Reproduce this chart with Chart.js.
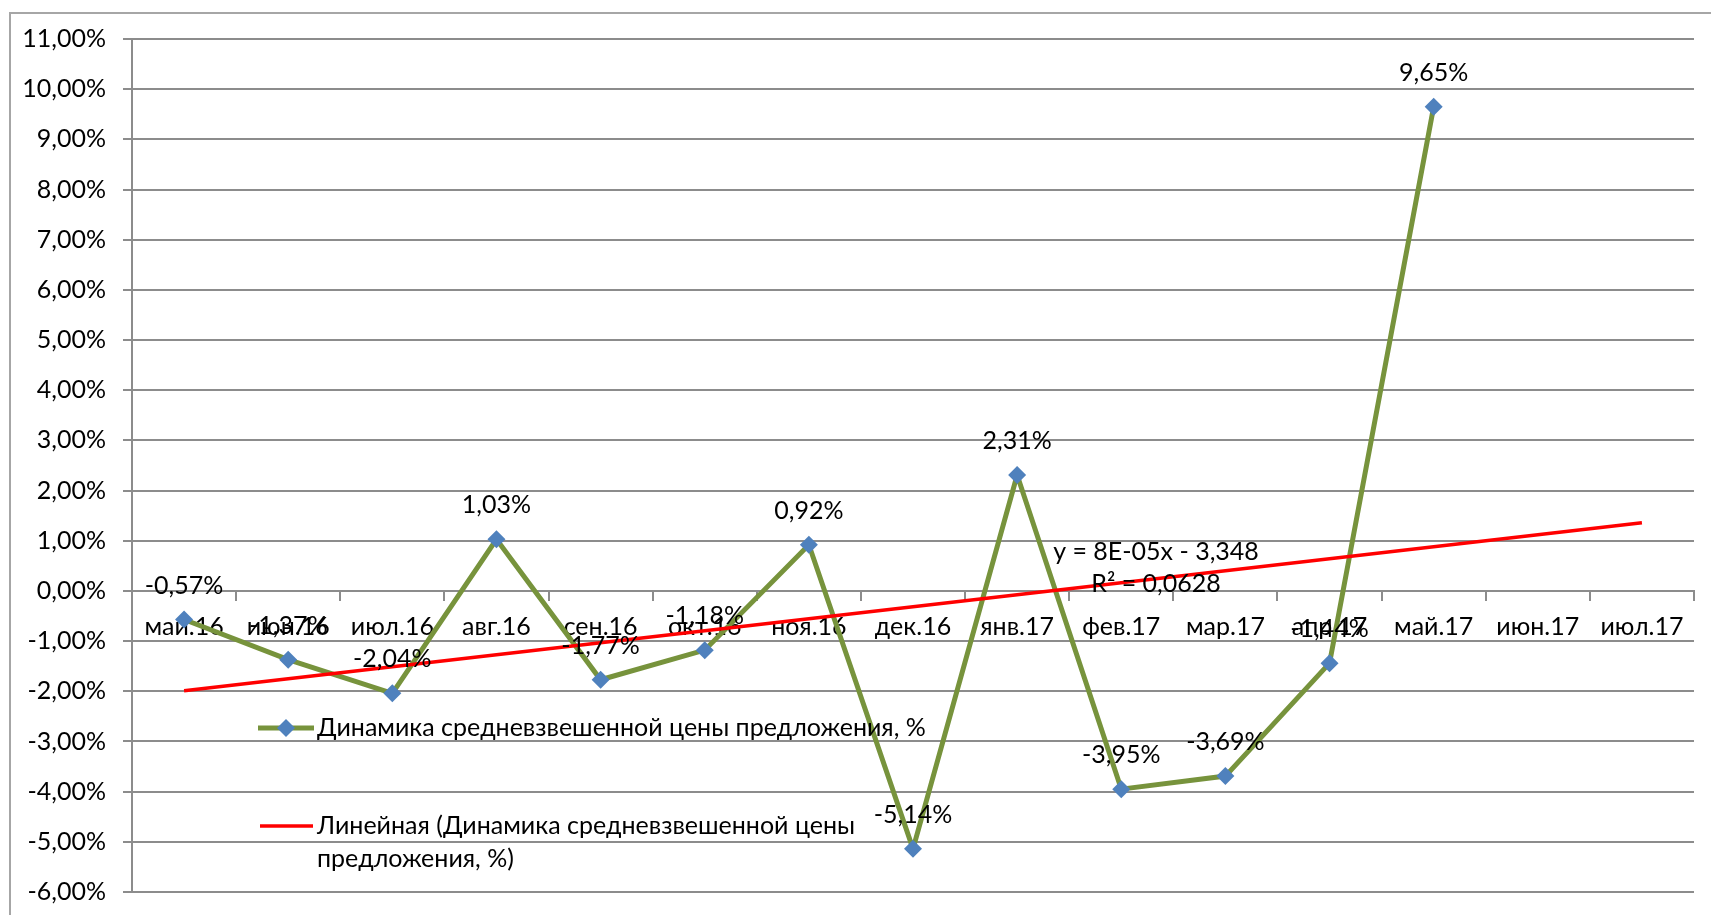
<!DOCTYPE html>
<html>
<head>
<meta charset="utf-8">
<script src="https://cdn.jsdelivr.net/npm/chart.js@4"></script>
<style>
    body { margin: 0; background: #fff; overflow: hidden; width: 1711px; height: 915px; position: relative; }
    .frame { position: absolute; left: 9px; top: 12px; width: 1720px; height: 920px; border: 2px solid #a6a6a6; }
    .my-chart { position: absolute; left: 0; top: 0; }
</style>
</head>
<body>
<div class="frame"></div>
<!-- canvas a bit taller than the window: the lower edge is cut off like in the source picture -->
<canvas class="my-chart" width="1711" height="924"></canvas>
<script>
const months = ['май.16', 'июн.16', 'июл.16', 'авг.16', 'сен.16', 'окт.16', 'ноя.16', 'дек.16',
    'янв.17', 'фев.17', 'мар.17', 'апр.17', 'май.17', 'июн.17', 'июл.17'];
const priceChange = [-0.57, -1.37, -2.04, 1.03, -1.77, -1.18, 0.92, -5.14, 2.31, -3.95, -3.69, -1.44, 9.65, null, null];
// trend line ends (first and last month)
const trendLine = [-1.99, null, null, null, null, null, null, null, null, null, null, null, null, null, 1.36];
const yTicks = { min: -6, max: 11, step: 1 };

const seriesName = 'Динамика средневзвешенной цены предложения, %';
const trendName = 'Линейная (Динамика средневзвешенной цены предложения, %)';
const equationText = ['y = 8E-05x - 3,348', 'R² = 0,0628'];

const fontName = 'Lato';
const fontSize = 25;
const gridGray = '#8c8c8c';

function percent(v) {
    return v.toFixed(2).replace('.', ',') + '%';
}

// value labels above the markers
const valueLabels = {
    id: 'valueLabels',
    afterDatasetsDraw(chart) {
        const ctx = chart.ctx;
        const meta = chart.getDatasetMeta(0);
        ctx.save();
        ctx.font = fontSize + 'px ' + fontName;
        ctx.fillStyle = '#000';
        ctx.textAlign = 'center';
        ctx.textBaseline = 'middle';
        meta.data.forEach(function (pt, i) {
            const v = chart.data.datasets[0].data[i];
            if (v === null) return;
            ctx.fillText(percent(v), pt.x, pt.y - 34);
        });
        ctx.restore();
    }
};

// legend drawn inside the plot + trend equation
const innerLegend = {
    id: 'innerLegend',
    afterDraw(chart) {
        const ctx = chart.ctx;
        const ds = chart.data.datasets;
        ctx.save();
        ctx.font = fontSize + 'px ' + fontName;
        ctx.fillStyle = '#000';
        ctx.textBaseline = 'middle';

        // first item
        ctx.strokeStyle = ds[0].borderColor;
        ctx.lineWidth = 5;
        ctx.beginPath();
        ctx.moveTo(258, 728);
        ctx.lineTo(314, 728);
        ctx.stroke();
        ctx.fillStyle = ds[0].pointBackgroundColor;
        ctx.beginPath();
        ctx.moveTo(286, 719);
        ctx.lineTo(295, 728);
        ctx.lineTo(286, 737);
        ctx.lineTo(277, 728);
        ctx.closePath();
        ctx.fill();
        ctx.fillStyle = '#000';
        ctx.textAlign = 'left';
        ctx.fillText(ds[0].label, 317, 728);

        // second item, wrapped
        ctx.strokeStyle = ds[1].borderColor;
        ctx.lineWidth = 3.5;
        ctx.beginPath();
        ctx.moveTo(260, 826);
        ctx.lineTo(313, 826);
        ctx.stroke();
        const words = ds[1].label.split(' ');
        let lines = [];
        let cur = '';
        words.forEach(function (w) {
            const test = cur ? cur + ' ' + w : w;
            if (ctx.measureText(test).width > 600 && cur) {
                lines.push(cur);
                cur = w;
            } else {
                cur = test;
            }
        });
        lines.push(cur);
        lines.forEach(function (l, i) {
            ctx.fillText(l, 317, 826 + i * 33);
        });

        // trend equation
        ctx.textAlign = 'center';
        ctx.fillText(equationText[0], 1156, 552);
        ctx.fillText(equationText[1], 1156, 584);
        ctx.restore();
    }
};

const myChart = document.querySelector('.my-chart');

new Chart(myChart, {
    type: 'line',
    data: {
        labels: months,
        datasets: [{
            label: seriesName,
            data: priceChange,
            borderColor: '#77933C',
            borderWidth: 5,
            tension: 0,
            pointStyle: 'rectRot',
            pointRadius: 9,
            pointBackgroundColor: '#4F81BD',
            pointBorderColor: '#4F81BD',
            pointBorderWidth: 0,
            order: 1
        }, {
            label: trendName,
            data: trendLine,
            borderColor: '#FF0000',
            borderWidth: 3.5,
            pointRadius: 0,
            spanGaps: true,
            order: 0
        }]
    },
    options: {
        responsive: false,
        animation: false,
        events: [],
        layout: {
            padding: { left: 0, right: 17, top: 39, bottom: 0 }
        },
        plugins: {
            legend: { display: false },
            tooltip: { enabled: false }
        },
        scales: {
            x: {
                position: { y: 0 },
                offset: true,
                grid: {
                    offset: true,
                    drawOnChartArea: false,
                    drawTicks: true,
                    tickLength: 9,
                    color: gridGray,
                    lineWidth: 2
                },
                border: { color: gridGray, width: 2 },
                ticks: {
                    color: '#000',
                    padding: 12,
                    maxRotation: 0,
                    autoSkip: false,
                    font: { family: fontName, size: fontSize }
                }
            },
            y: {
                min: yTicks.min,
                max: yTicks.max,
                afterFit(scale) {
                    scale.width = 132;
                },
                grid: {
                    color: gridGray,
                    lineWidth: 2,
                    tickLength: 9
                },
                border: { color: gridGray, width: 2 },
                ticks: {
                    stepSize: yTicks.step,
                    color: '#000',
                    padding: 17,
                    font: { family: fontName, size: fontSize },
                    callback: function (v) {
                        return percent(v);
                    }
                }
            }
        }
    },
    plugins: [valueLabels, innerLegend]
});
</script>
</body>
</html>
